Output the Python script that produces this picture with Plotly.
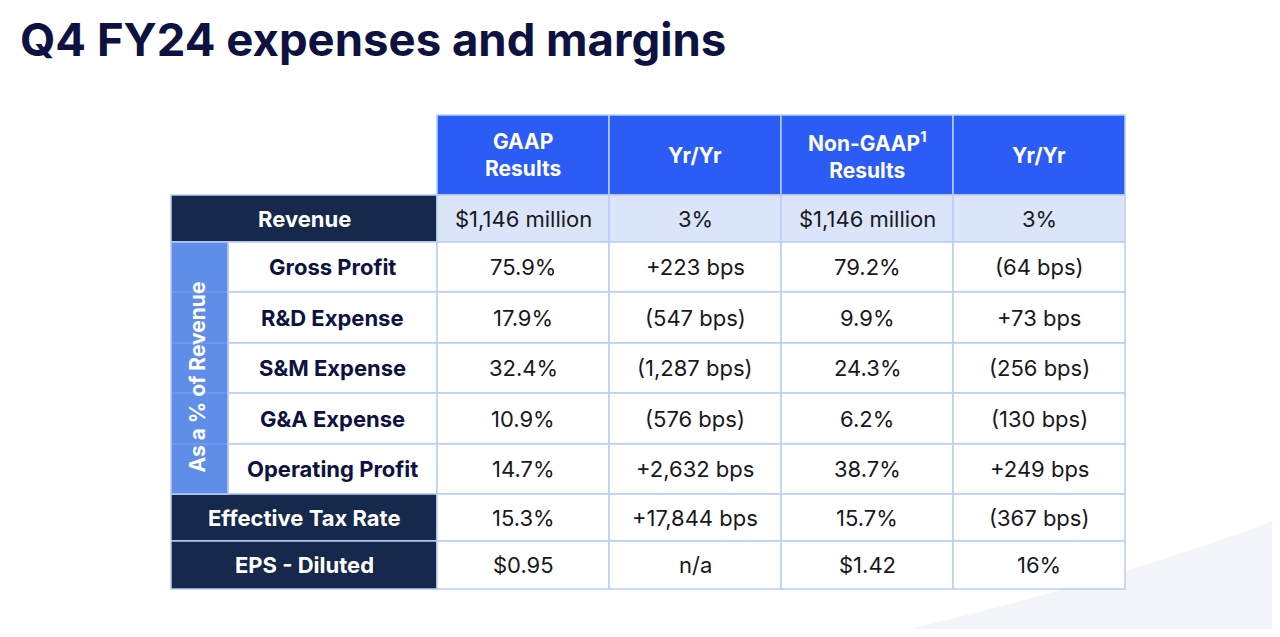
import plotly.graph_objects as go

# ---------------- data ----------------
title_text = "Q4 FY24 expenses and margins"
column_headers = ["GAAP<br>Results", "Yr/Yr", "Non-GAAP<sup>1</sup><br>Results", "Yr/Yr"]
row_labels = ["Revenue", "Gross Profit", "R&D Expense", "S&M Expense", "G&A Expense",
              "Operating Profit", "Effective Tax Rate", "EPS - Diluted"]
gaap_results = ["$1,146 million", "75.9%", "17.9%", "32.4%", "10.9%", "14.7%", "15.3%", "$0.95"]
gaap_yoy = ["3%", "+223 bps", "(547 bps)", "(1,287 bps)", "(576 bps)", "+2,632 bps", "+17,844 bps", "n/a"]
nongaap_results = ["$1,146 million", "79.2%", "9.9%", "24.3%", "6.2%", "38.7%", "15.7%", "$1.42"]
nongaap_yoy = ["3%", "(64 bps)", "+73 bps", "(256 bps)", "(130 bps)", "+249 bps", "(367 bps)", "16%"]
group_label = "As a % of Revenue"
group_rows = [1, 2, 3, 4, 5]          # rows that belong to the "% of revenue" group
navy_rows = [0, 6, 7]                  # rows with full-width dark label cells

# ---------------- layout / style ----------------
PAGE_W, PAGE_H = 1280, 637
OFF = 8                                 # page body margin
W, H = PAGE_W - 2 * OFF, PAGE_H - 2 * OFF
X_EDGES = [171, 228, 437, 609, 781, 953, 1125]   # group col, label col, 4 data cols
Y_EDGES = [115, 195, 242, 292, 343, 393, 444, 494, 541, 589]  # header + 8 rows
GROUP_TEXT_SHIFT = (-3, 9)              # small visual offset of the rotated label

C_HEADER = "#2b5cf6"
C_NAVY = "#16284b"
C_GROUP = "#5f8ee9"
C_REV_BG = "#dbe5f9"
C_GRID = "#b9cdf5"
C_TITLE = "#0e1240"
C_LABEL = "#0e1240"
C_TEXT = "#18181c"
FONT = "Inter"

data_cols = [gaap_results, gaap_yoy, nongaap_results, nongaap_yoy]

fig = go.Figure()
shapes = []
annotations = []

def rect(x0, x1, y0, y1, fill, line_color=C_GRID, lw=1.5):
    shapes.append(dict(type="rect", xref="x", yref="y", x0=x0, x1=x1, y0=y0, y1=y1,
                       fillcolor=fill, line=dict(color=line_color, width=lw), layer="below"))

def text(x, y, s, size, color, weight=400, angle=0):
    annotations.append(dict(x=x, y=y, xref="x", yref="y", text=s, showarrow=False,
                            font=dict(family=FONT, size=size, color=color, weight=weight),
                            textangle=angle, xanchor="center", yanchor="middle", align="center"))

# background swoosh
shapes.append(dict(type="path", xref="x", yref="y",
                   path="M 860,640 Q 1090,590 1290,515 L 1290,640 Z",
                   fillcolor="#f3f5fb", line=dict(width=0), layer="below"))

# header cells
for j, hdr in enumerate(column_headers):
    x0, x1 = X_EDGES[2 + j], X_EDGES[3 + j]
    y0, y1 = Y_EDGES[0], Y_EDGES[1]
    rect(x0, x1, y0, y1, C_HEADER)
    text((x0 + x1) / 2, (y0 + y1) / 2, hdr, 21, "white", 700)

# body rows
for i, lab in enumerate(row_labels):
    y0, y1 = Y_EDGES[1 + i], Y_EDGES[2 + i]
    yc = (y0 + y1) / 2
    if i in navy_rows:
        rect(X_EDGES[0], X_EDGES[2], y0, y1, C_NAVY)
        text((X_EDGES[0] + X_EDGES[2]) / 2, yc, lab, 22, "white", 700)
    else:
        rect(X_EDGES[1], X_EDGES[2], y0, y1, "white")
        text((X_EDGES[1] + X_EDGES[2]) / 2, yc, lab, 22, C_LABEL, 700)
    bg = C_REV_BG if i == 0 else "white"
    for j, col in enumerate(data_cols):
        x0, x1 = X_EDGES[2 + j], X_EDGES[3 + j]
        rect(x0, x1, y0, y1, bg)
        text((x0 + x1) / 2, yc, col[i], 22, C_TEXT, 400)

# merged group cell
gy0, gy1 = Y_EDGES[1 + group_rows[0]], Y_EDGES[2 + group_rows[-1]]
rect(X_EDGES[0], X_EDGES[1], gy0, gy1, C_GROUP)
for r in group_rows[1:]:
    yy = Y_EDGES[1 + r]
    shapes.append(dict(type="line", xref="x", yref="y", x0=X_EDGES[0] + 1, x1=X_EDGES[1] - 1,
                       y0=yy, y1=yy, line=dict(color="rgba(255,255,255,0.18)", width=1),
                       layer="below"))
text((X_EDGES[0] + X_EDGES[1]) / 2 + GROUP_TEXT_SHIFT[0], (gy0 + gy1) / 2 + GROUP_TEXT_SHIFT[1],
     group_label, 21, "white", 700, angle=-90)

# title
annotations.append(dict(x=18, y=39, xref="x", yref="y", text=title_text, showarrow=False,
                        xanchor="left", yanchor="middle",
                        font=dict(family=FONT, size=45.5, color=C_TITLE, weight=700)))

fig.update_layout(
    width=W, height=H,
    margin=dict(l=0, r=0, t=0, b=0),
    paper_bgcolor="white", plot_bgcolor="white",
    xaxis=dict(range=[OFF, OFF + W], visible=False, fixedrange=True),
    yaxis=dict(range=[OFF + H, OFF], visible=False, fixedrange=True),
    shapes=shapes, annotations=annotations, showlegend=False,
)
fig.write_html("out.html", config={"displayModeBar": False})
